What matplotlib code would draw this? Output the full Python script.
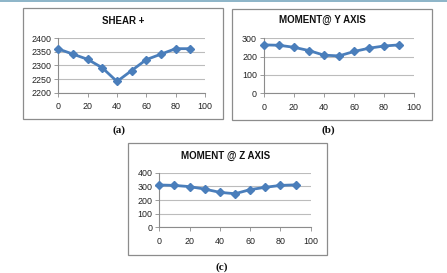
import numpy as np
import matplotlib
matplotlib.use("Agg")
from matplotlib import pyplot as plt
from matplotlib.patches import Rectangle

# data
angle = [0, 10, 20, 30, 40, 50, 60, 70, 80, 90]
shear = [2360, 2341, 2322, 2291, 2241, 2281, 2321, 2341, 2361, 2361]
moment_y = [264, 262, 251, 233, 208, 204, 228, 246, 258, 264]
moment_z = [310, 307, 298, 280, 256, 246, 276, 293, 307, 311]

titles = ["SHEAR +", "MOMENT@ Y AXIS", "MOMENT @ Z AXIS"]
captions = ["(a)", "(b)", "(c)"]
yticks = [[2200, 2250, 2300, 2350, 2400], [0, 100, 200, 300], [0, 100, 200, 300, 400]]
xticks = [0, 20, 40, 60, 80, 100]

W, H = 447, 273
plt.rcParams['font.family'] = ['Liberation Sans', 'DejaVu Sans']
fig = plt.figure(figsize=(W / 100, H / 100), dpi=100)

def fbox(l, t, r, b):
    # pixel box -> figure fraction [x, y, w, h]
    return [l / W, 1 - b / H, (r - l) / W, (b - t) / H]

# thin line along the very top
fig.add_artist(Rectangle((0, 1 - 1.5 / H), 1, 1.5 / H, transform=fig.transFigure,
                         color='#8fb6c9', lw=0))

frames = [(22.7, 8, 222.7, 119), (231.7, 9, 431.7, 120), (127.7, 143.3, 327.3, 255)]
plots = [(58.3, 38, 205, 92.7), (264, 38.3, 414, 93.3), (159.3, 172.7, 310.7, 227.3)]
title_pos = [(123, 21), (322, 20), (226, 156)]
cap_pos = [(119, 130.5), (328, 130.5), (222, 267)]
series = [shear, moment_y, moment_z]

line_col = '#4a7ebb'
grid_col = '#bcbcbc'

for i in range(3):
    l, t, r, b = frames[i]
    fig.add_artist(Rectangle((l / W, 1 - b / H), (r - l) / W, (b - t) / H,
                             transform=fig.transFigure, fill=False,
                             ec='#8c8c8c', lw=0.9))
    ax = fig.add_axes(fbox(*plots[i]))
    ax.plot(angle, series[i], color=line_col, lw=2.0, marker='D', ms=3.8,
            mfc=line_col, mec=line_col, zorder=3, clip_on=False)
    ax.set_xlim(0, 100)
    ax.set_ylim(yticks[i][0], yticks[i][-1])
    ax.set_xticks(xticks)
    ax.set_yticks(yticks[i])
    ax.yaxis.grid(True, color=grid_col, lw=0.8)
    ax.set_axisbelow(True)
    for s in ['top', 'right']:
        ax.spines[s].set_visible(False)
    ax.spines['left'].set_color('#8c8c8c')
    ax.spines['bottom'].set_color('#8c8c8c')
    ax.spines['left'].set_linewidth(0.8)
    ax.spines['bottom'].set_linewidth(0.8)
    ax.tick_params(axis='both', length=3, width=0.6, color='#8c8c8c',
                   labelsize=6.4, labelcolor='#222222')
    ax.tick_params(axis='x', pad=4)
    ax.tick_params(axis='y', pad=2)
    tx, ty = title_pos[i]
    fig.text(tx / W, 1 - ty / H, titles[i], ha='center', va='center',
             fontsize=7.0, fontweight='bold', color='#111111')
    cx, cy = cap_pos[i]
    fig.text(cx / W, 1 - cy / H, captions[i], ha='center', va='center',
             fontsize=8, fontweight='bold', family='Liberation Serif', color='#111111')

fig.savefig('out.png', dpi=100)
